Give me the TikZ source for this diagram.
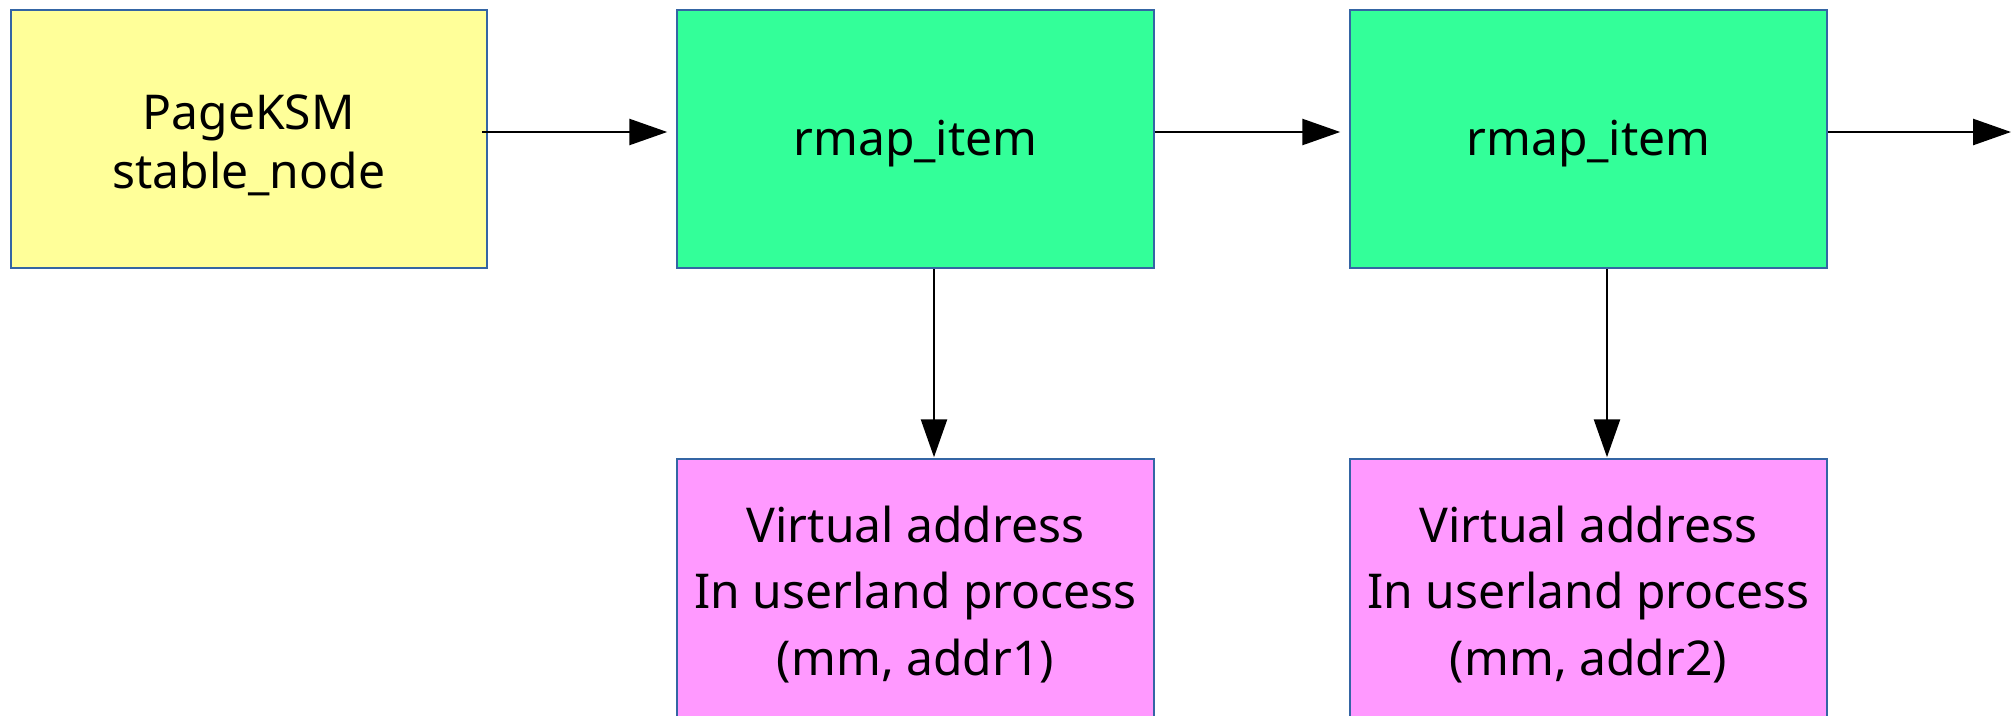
\documentclass[tikz,border=0pt]{standalone}
\usepackage{fontspec}
\setmainfont{Noto Sans}
\usetikzlibrary{arrows.meta}
\definecolor{boxline}{HTML}{3465A4}
\definecolor{yel}{HTML}{FFFF99}
\definecolor{grn}{HTML}{33FF99}
\definecolor{pnk}{HTML}{FF99FF}
\begin{document}
\begin{tikzpicture}[x=1pt,y=-1pt,
  box/.style={draw=boxline,line width=2pt,minimum width=476.5pt,minimum height=258.5pt,inner sep=0pt},
  txt/.style={inner sep=0pt,align=center,font=\fontsize{48}{66.7}\selectfont},
  arr/.style={line width=2.6pt,-{Triangle[length=38pt,width=26pt]}}]
\useasboundingbox (0,0) rectangle (2011,715);
\node[box,fill=yel] (Y) at (248.75,138.75) {};
\node[box,fill=grn] (G1) at (915.5,138.75) {};
\node[box,fill=grn] (G2) at (1588.5,138.75) {};
\node[box,fill=pnk] (P1) at (915.5,588.5) {};
\node[box,fill=pnk] (P2) at (1588.5,588.5) {};
\node[txt,font=\fontsize{48}{59}\selectfont] (Yt) at ([yshift=-6.5pt]Y.center) {PageKSM\\stable\_node};
\node[txt] (G1t) at ([yshift=-5pt]G1.center) {rmap\_item};
\node[txt] (G2t) at ([yshift=-5pt]G2.center) {rmap\_item};
\node[txt] (P1t) at ([yshift=-6pt]P1.center) {Virtual address\\In userland process\\(mm, addr1)};
\node[txt] (P2t) at ([yshift=-6pt]P2.center) {Virtual address\\In userland process\\(mm, addr2)};
\coordinate (E) at (2011,132);
\draw[arr] ([shift={(-6,-6.75)}]Y.east) -- ([shift={(-9,-6.75)}]G1.west);
\draw[arr] ([shift={(0,-6.75)}]G1.east) -- ([shift={(-9,-6.75)}]G2.west);
\draw[arr] ([shift={(0,-6.75)}]G2.east) -- (E);
\draw[arr] ([xshift=18.5pt]G1.south) -- ([xshift=18.5pt,yshift=1pt]P1.north);
\draw[arr] ([xshift=18.5pt]G2.south) -- ([xshift=18.5pt,yshift=1pt]P2.north);
\end{tikzpicture}
\end{document}
